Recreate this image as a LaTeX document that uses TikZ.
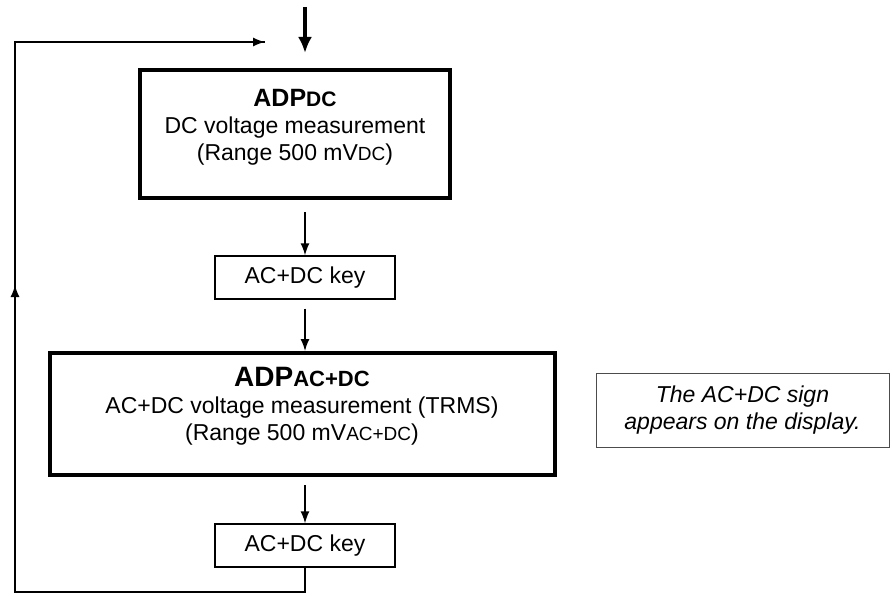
\documentclass[tikz,border=0pt]{standalone}
\usepackage{fontspec}
\setmainfont{Liberation Sans}
\usetikzlibrary{positioning,arrows.meta}
\begin{document}
\begin{tikzpicture}[x=0.5pt,y=-0.5pt,
mainbox/.style={rectangle,draw=black,line width=2pt,align=center,inner sep=0pt},
keybox/.style={rectangle,draw=black,line width=0.7pt,minimum width=90pt,minimum height=21.5pt,inner sep=0pt,font=\fontsize{11.5}{13}\selectfont},
notebox/.style={rectangle,draw=black!70,line width=0.5pt,minimum width=146.5pt,minimum height=37pt,align=center,font=\fontsize{11.5}{13.5}\selectfont\itshape},
flow/.style={-{Latex[length=6pt,width=4.5pt]},line width=0.7pt},
]
\useasboundingbox (0,0) rectangle (893,599);
%Nodes
\node[mainbox,minimum width=155pt,minimum height=64pt] (dc) at (295,134) {};
\node[align=center,font=\fontsize{11.5}{13.5}\selectfont,anchor=north] (dctext) at (295,82) {{\bfseries\fontsize{12.5}{13.5}\selectfont ADP\fontsize{10.5}{13.5}\selectfont DC}\\DC voltage measurement\\(Range 500 mV{\fontsize{9.5}{13}\selectfont DC})};
\node[keybox] (key1) at (305,277.5) {AC+DC key};
\node[mainbox,minimum width=252.5pt,minimum height=61pt] (acdc) at (302.5,414) {};
\node[align=center,font=\fontsize{11.5}{13.5}\selectfont,anchor=north] (acdctext) at (302,360) {{\bfseries\fontsize{14}{16}\selectfont ADP\fontsize{11}{16}\selectfont AC+DC}\\AC+DC voltage measurement (TRMS)\\(Range 500 mV{\fontsize{9.5}{13}\selectfont AC+DC})};
\node[keybox] (key2) at (305,545.5) {AC+DC key};
\node[notebox] (note) at (742.5,410) {The AC+DC sign\\appears on the display.};
\coordinate (entry) at (305,7);
\coordinate (low) at (15,592);
\coordinate (high) at (15,42);
\coordinate (back) at (265,42);
%Lines
\draw[-{Latex[length=8pt,width=7pt]},line width=1.8pt] (entry) -- (305,53);
\draw[flow] (dc.south -| key1) ++(0,12) -- (key1.north);
\draw[flow] (key1.south) ++(0,9) -- (acdc.north -| key1);
\draw[flow] (acdc.south -| key2) ++(0,8) -- (key2.north);
\draw[line width=0.7pt] (key2.south) |- (low) -- (high) -- (back);
\draw[flow] (low) -- (15,285);
\draw[flow] (high) -- (back);
\end{tikzpicture}
\end{document}
